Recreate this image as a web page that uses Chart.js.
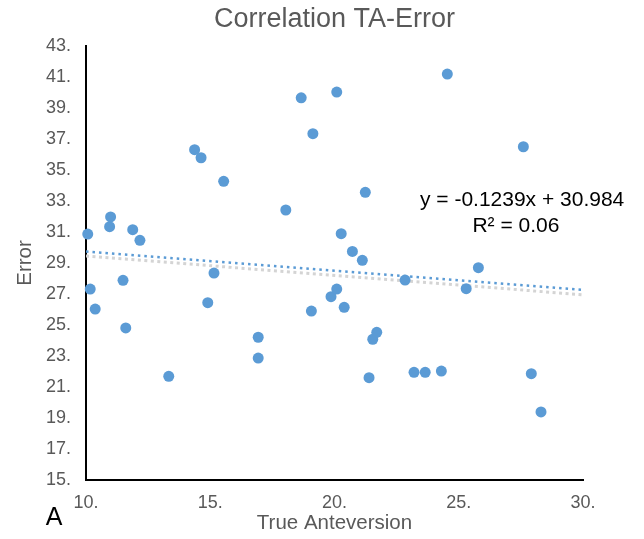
<!DOCTYPE html>
<html>
<head>
<meta charset="utf-8">
<script src="https://cdn.jsdelivr.net/npm/chart.js@4.4.1/dist/chart.umd.min.js"></script>
<style>
  body { margin: 0; background: #fff; }
  #wrap { width: 644px; height: 539px; position: relative; }
</style>
</head>
<body>
<div id="wrap"><canvas id="taChart"></canvas></div>
<script>
// values
const anteversion = [10.07, 10.17, 10.37, 10.95, 10.99, 11.49, 11.60, 11.88, 12.17, 13.33,
    14.37, 14.63, 14.90, 15.15, 15.54, 16.93, 16.93, 18.04, 18.66, 19.07, 19.13,
    19.86, 20.09, 20.09, 20.27, 20.39, 20.72, 21.12, 21.24, 21.39, 21.54, 21.70,
    22.84, 23.20, 23.65, 24.30, 24.54, 25.30, 25.79, 27.60, 27.92, 28.31];
const errorVals = [30.87, 27.32, 26.03, 31.34, 31.97, 27.88, 24.81, 31.15, 30.46, 21.69,
    36.31, 35.79, 26.44, 28.35, 34.27, 24.21, 22.87, 32.42, 39.66, 25.90, 37.34,
    26.83, 27.32, 40.03, 30.89, 26.14, 29.75, 29.17, 33.56, 21.60, 24.08, 24.53,
    27.90, 21.95, 21.95, 22.03, 41.19, 27.34, 28.70, 36.50, 21.86, 19.39];

const xTicks = [10, 15, 20, 25, 30];
const yTicks = [15, 17, 19, 21, 23, 25, 27, 29, 31, 33, 35, 37, 39, 41, 43];

// linear trend (blue) and the faint grey one under it
const trendSlope = -0.1239, trendIntercept = 30.984;
const greySlope = -0.125, greyIntercept = 30.70;
const trendX = [10, 30];

const equationLines = ['y = -0.1239x + 30.984', 'R\u00b2 = 0.06'];

Chart.defaults.font.family = '"Liberation Sans", Arial, Helvetica, sans-serif';

const points = anteversion.map((x, i) => ({ x: x, y: errorVals[i] }));
const trendPts = trendX.map(x => ({ x: x, y: trendSlope * x + trendIntercept }));
const greyPts = trendX.map(x => ({ x: x, y: greySlope * x + greyIntercept }));

// equation label + panel letter
const extraText = {
    id: 'extraText',
    afterDraw(chart) {
        const ctx = chart.ctx;
        const xs = chart.scales.x, ys = chart.scales.y;
        ctx.save();
        ctx.fillStyle = '#000';
        ctx.font = '21px "Liberation Sans", Arial, sans-serif';
        ctx.textAlign = 'center';
        ctx.textBaseline = 'alphabetic';
        ctx.fillText(equationLines[0], xs.getPixelForValue(27.55), ys.getPixelForValue(32.65));
        ctx.fillText(equationLines[1], xs.getPixelForValue(27.30), ys.getPixelForValue(31.0));
        ctx.font = '25px "Liberation Sans", Arial, sans-serif';
        ctx.fillText('A', 54, 525);
        ctx.restore();
    }
};

const ctx = document.getElementById('taChart').getContext('2d');
new Chart(ctx, {
    type: 'scatter',
    data: {
        datasets: [{
            label: 'Error',
            data: points,
            backgroundColor: '#5B9BD5',
            borderWidth: 0,
            pointRadius: 5.5,
            pointHoverRadius: 5.5,
            clip: false,
            order: 0
        }, {
            type: 'line',
            label: 'Linear trend',
            data: trendPts,
            borderColor: '#5B9BD5',
            borderWidth: 2.5,
            borderDash: [2.5, 4],
            pointRadius: 0,
            fill: false,
            order: 1
        }, {
            type: 'line',
            label: 'Trend 2',
            data: greyPts,
            borderColor: '#D4D4D4',
            borderWidth: 3,
            borderDash: [3, 3.5],
            pointRadius: 0,
            fill: false,
            order: 2
        }]
    },
    options: {
        responsive: true,
        maintainAspectRatio: false,
        animation: false,
        layout: { padding: { left: 0, right: 61, top: 0, bottom: 0 } },
        plugins: {
            legend: { display: false },
            tooltip: { enabled: false },
            title: {
                display: true,
                text: 'Correlation TA-Error',
                color: '#595959',
                fullSize: false,
                font: { size: 27, weight: 'normal' },
                padding: { top: 3, bottom: 10.6 }
            }
        },
        scales: {
            x: {
                type: 'linear',
                min: 10,
                max: 30,
                afterBuildTicks: s => { s.ticks = xTicks.map(v => ({ value: v })); },
                afterFit: s => { s.height = 59; },
                grid: { display: false, drawTicks: false },
                border: { display: true, color: '#000', width: 2 },
                ticks: {
                    color: '#595959',
                    font: { size: 18 },
                    padding: 12,
                    maxRotation: 0,
                    callback: v => v + '.'
                },
                title: {
                    display: true,
                    text: 'True Anteversion',
                    color: '#595959',
                    font: { size: 20.5 },
                    padding: { top: 0, bottom: 3 }
                }
            },
            y: {
                type: 'linear',
                min: 15,
                max: 43,
                afterBuildTicks: s => { s.ticks = yTicks.map(v => ({ value: v })); },
                afterFit: s => { s.width = 86; },
                grid: { display: false, drawTicks: false },
                border: { display: true, color: '#000', width: 2 },
                ticks: {
                    color: '#595959',
                    font: { size: 18 },
                    padding: 15,
                    callback: v => v + '.'
                },
                title: {
                    display: true,
                    text: 'Error',
                    color: '#595959',
                    font: { size: 20.5 },
                    padding: { top: 13, bottom: 0 }
                }
            }
        }
    },
    plugins: [extraText]
});
</script>
</body>
</html>
